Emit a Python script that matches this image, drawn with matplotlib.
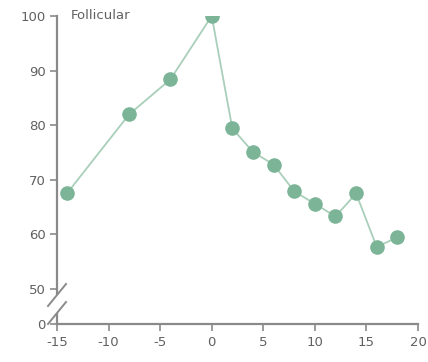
import numpy as np
import matplotlib
matplotlib.use("Agg")
import matplotlib.pyplot as plt
from matplotlib.lines import Line2D

days = [-14, -8, -4, 0, 2, 4, 6, 8, 10, 12, 14, 16, 18]
values = [67.6, 82.0, 88.4, 100, 79.4, 75.1, 72.8, 67.9, 65.6, 63.3, 67.5, 57.7, 59.5]
x_ticks = [-15, -10, -5, 0, 5, 10, 15, 20]
y_ticks = [0, 50, 60, 70, 80, 90, 100]
label = "Follicular"

# broken y axis: the 0-50 range is compressed
GAP = 6.4
def fwd(y):
    y = np.asarray(y, dtype=float)
    return np.where(y >= 50, y, (50 - GAP) + y * GAP / 50)
def inv(y):
    y = np.asarray(y, dtype=float)
    return np.where(y >= 50, y, (y - (50 - GAP)) * 50 / GAP)

W, H = 428, 362
plt.rcParams['font.family'] = ['Liberation Sans Narrow', 'DejaVu Sans']
fig = plt.figure(figsize=(W / 100, H / 100), dpi=100)
ax = fig.add_axes([57 / W, 1 - 324 / H, (418 - 57) / W, (324 - 16) / H])
ax.set_yscale('function', functions=(fwd, inv))

green = '#7bb497'
line_c = '#a9cfba'
ax.plot(days, values, color=line_c, lw=1.3, zorder=2)
ax.plot(days, values, 'o', color=green, ms=10.5, mec='none', zorder=3)

ax.set_xlim(-15, 20)
ax.set_ylim(0, 100)
ax.set_xticks(x_ticks)
ax.set_yticks(y_ticks)
ax.set_xticklabels([str(t) for t in x_ticks])
ax.set_yticklabels([str(t) for t in y_ticks])

gray = '#8a8a8a'
for s in ['top', 'right']:
    ax.spines[s].set_visible(False)
for s in ['left', 'bottom']:
    ax.spines[s].set_color(gray)
    ax.spines[s].set_linewidth(1.6)
ax.tick_params(axis='both', colors=gray, labelcolor='#606060', labelsize=9.5,
               length=5, width=1.2, direction='out')
ax.tick_params(axis='x', pad=4)
ax.tick_params(axis='y', pad=3)

# break marks on the y axis (figure pixel coordinates)
def px(x, y):
    return x / W, 1 - y / H

x0 = 57
gx = [px(x0, 297)[0], px(x0, 311)[0]]
gy = [px(x0, 297)[1], px(x0, 311)[1]]
fig.add_artist(Line2D(gx, gy, color='white', lw=3.0, transform=fig.transFigure, zorder=5))
for yc in (295, 313):
    a = px(x0 - 9, yc + 11)
    b = px(x0 + 9, yc - 11)
    fig.add_artist(Line2D([a[0], b[0]], [a[1], b[1]], color=gray, lw=1.4,
                          transform=fig.transFigure, zorder=6))

ax.text(-13.7, 100, label, fontsize=9.5, color='#606060', va='center', ha='left')

fig.savefig('out.png', dpi=100)
